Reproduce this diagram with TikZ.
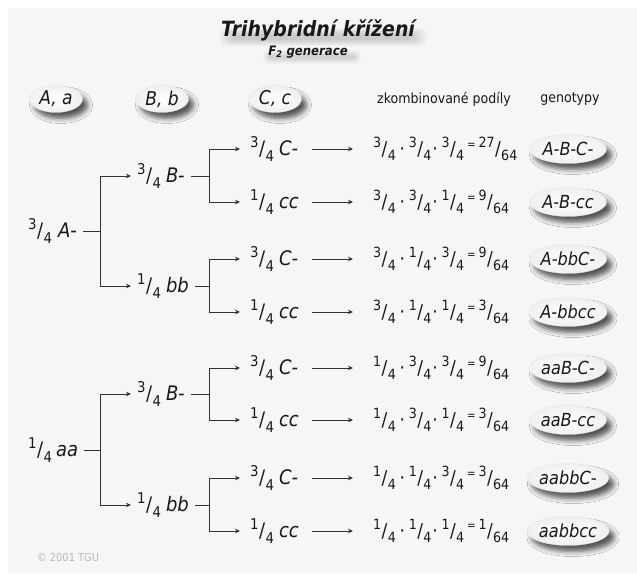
\documentclass[tikz,border=0pt]{standalone}
\usepackage{fontspec}
\setmainfont{DejaVu Sans}[FakeStretch=0.9]
\usepackage{graphicx}
\usetikzlibrary{arrows.meta,shapes.geometric,shadows.blur,calc}
\definecolor{panel}{RGB}{246,246,246}
\definecolor{ink}{RGB}{25,25,25}
\definecolor{lin}{RGB}{50,50,50}
\newcommand{\fq}[2]{\raisebox{.40em}{\scalebox{.74}{#1}}\kern.02em/\kern.02em\raisebox{-.28em}{\scalebox{.74}{#2}}}
\newcommand{\eqs}{\raisebox{.38em}{\scalebox{.6}{=}}}
\newcommand{\fml}[4]{\fq{#1}{4}\hspace{.2em}·\hspace{.2em}\fq{#2}{4}\hspace{.05em}·\hspace{.2em}\fq{#3}{4}\hspace{.15em}\eqs\hspace{.15em}\fq{#4}{64}}
\begin{document}
\begin{tikzpicture}[x=1pt,y=-1pt,
  ln/.style={draw=lin, line width=0.8pt},
  arr/.style={ln, -{Stealth[length=5pt,width=4.5pt]}},
  tree/.style={anchor=west, text=ink, font=\fontsize{20}{22}\selectfont, inner xsep=6pt, inner ysep=1pt},
  frm/.style={anchor=west, text=ink, font=\fontsize{19}{22}\selectfont, inner xsep=20pt, inner ysep=0pt},
  pill/.style={ellipse, inner sep=0pt, shade, inner color=white, outer color=gray!12, draw=gray!22, line width=0.3pt, blur shadow={shadow xshift=5pt, shadow yshift=-6pt, shadow blur radius=5pt, shadow opacity=65}, text=ink},
  geno/.style={pill, minimum width=77pt, minimum height=29pt, font=\fontsize{18}{20}\selectfont\itshape},
  head/.style={pill, minimum width=53pt, minimum height=27pt, font=\fontsize{19}{20}\selectfont\itshape},
  colh/.style={text=ink, font=\fontsize{14}{16}\selectfont},
  ttl/.style={font=\fontsize{21}{23}\selectfont\bfseries\itshape},
  sttl/.style={font=\fontsize{13}{15}\selectfont\bfseries\itshape},
]
\useasboundingbox (0,0) rectangle (637,581);
\fill[white] (0,0) rectangle (637,581);
\fill[panel] (8,8) rectangle (637,573);

% soft shadow under the title
\foreach \w/\h in {206/18,200/15,194/12,188/9,182/6}{
  \fill[black, opacity=0.035, rounded corners=6pt] (323-\w/2,37-\h/2) rectangle (323+\w/2,37+\h/2);
}
\foreach \w/\h in {98/13,94/10,90/7,86/4}{
  \fill[black, opacity=0.035, rounded corners=5pt] (312-\w/2,57-\h/2) rectangle (312+\w/2,57+\h/2);
}
\node[ttl, text=ink] (title) at (318,30) {Trihybridní křížení};
\node[sttl, text=ink] (sub) at (308,52) {F\textsubscript{2} generace};

% column heads
\node[head] (hA) at (56,99) {A, a};
\node[head] (hB) at (162,99) {B, b};
\node[head] (hC) at (275,99) {C, c};
\node[colh] (hF) at (444,99) {zkombinované podíly};
\node[colh] (hG) at (570,99) {genotypy};

% bracket columns
\coordinate (kA) at (100,0);
\coordinate (kB) at (209,0);
\coordinate (kC) at (312,0);

% A level
\node[tree] (A1) at (22,231) {\fq{3}{4}\hspace{.3em}\textit{A-}};
\node[tree] (A2) at (22,450) {\fq{1}{4}\hspace{.2em}\textit{aa}};

% B level
\foreach \i/\y/\n/\t in {1/176/3/B-,2/286/1/bb,3/394/3/B-,4/505/1/bb}{
  \node[tree] (B\i) at (131,\y) {\fq{\n}{4}\hspace{.25em}\textit{\t}};
}

% C level, formulas, genotypes
\foreach \i/\y/\n/\t/\p/\q/\r/\s/\g in {
  1/149/3/C-/3/3/3/27/A-B-C-,
  2/202/1/cc/3/3/1/9/A-B-cc,
  3/259/3/C-/3/1/3/9/A-bbC-,
  4/312/1/cc/3/1/1/3/A-bbcc,
  5/368/3/C-/1/3/3/9/aaB-C-,
  6/420/1/cc/1/3/1/3/aaB-cc,
  7/478/3/C-/1/1/3/3/aabbC-,
  8/531/1/cc/1/1/1/1/aabbcc}{
  \node[tree, inner xsep=10pt] (C\i) at (240,\y) {\fq{\n}{4}\hspace{.25em}\textit{\t}};
  \node[frm] (F\i) at (353,\y) {\fml{\p}{\q}{\r}{\s}};
  \node[geno] (G\i) at (568,\y) {\g};
  \draw[arr] (C\i.east -| kC) -- (F\i.west);
}

% tree connectors
\draw[ln] (A1.east) -- (A1 -| kA);
\draw[arr] (A1 -| kA) |- (B1.west);
\draw[arr] (A1 -| kA) |- (B2.west);
\draw[ln] (A2.east) -- (A2 -| kA);
\draw[arr] (A2 -| kA) |- (B3.west);
\draw[arr] (A2 -| kA) |- (B4.west);

\draw[ln] (B1.east) -- (B1 -| kB);
\draw[arr] (B1 -| kB) |- (C1.west);
\draw[arr] (B1 -| kB) |- (C2.west);
\draw[ln] (B2.east) -- (B2 -| kB);
\draw[arr] (B2 -| kB) |- (C3.west);
\draw[arr] (B2 -| kB) |- (C4.west);
\draw[ln] (B3.east) -- (B3 -| kB);
\draw[arr] (B3 -| kB) |- (C5.west);
\draw[arr] (B3 -| kB) |- (C6.west);
\draw[ln] (B4.east) -- (B4 -| kB);
\draw[arr] (B4 -| kB) |- (C7.west);
\draw[arr] (B4 -| kB) |- (C8.west);

\node[text=gray!55, font=\fontsize{11}{13}\selectfont] (copy) at (68,557) {© 2001 TGU};
\end{tikzpicture}
\end{document}
